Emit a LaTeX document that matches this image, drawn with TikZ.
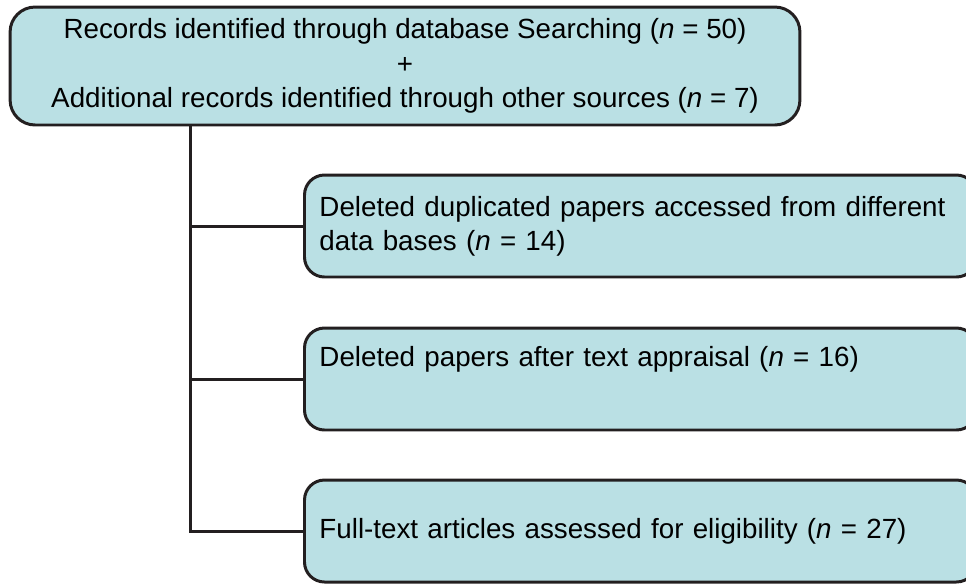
\documentclass[tikz,border=0pt]{standalone}
\usepackage{fontspec}
\setmainfont{Liberation Sans}
\definecolor{boxfill}{RGB}{186,224,228}
\definecolor{boxline}{RGB}{35,31,32}
\tikzset{
  flowbox/.style={draw=boxline,fill=boxfill,line width=1.7pt,rounded corners=0.4cm,
    minimum height=2.04cm,text width=12.84cm,inner sep=0.3cm,align=left,anchor=west},
  link/.style={draw=boxline,line width=1.7pt}
}
\begin{document}
\begin{tikzpicture}[x=0.02cm,y=-0.02cm,font=\fontsize{15.8}{19.5}\selectfont]
        \clip (0,0) rectangle (966,583);
        \node[draw=boxline,fill=boxfill,line width=1.7pt,rounded corners=0.5cm,
            minimum width=15.8cm,minimum height=2.36cm,align=center] (records) at (405,66)
            {Records identified through database Searching (\textit{n} = 50)\\+\\
             Additional records identified through other sources (\textit{n} = 7)};
        \node[flowbox] (duplicates) at (303,226)
            {Deleted duplicated papers accessed from different\\data bases (\textit{n} = 14)};
        \node[flowbox] (appraisal) at (303,379)
            {Deleted papers after text appraisal (\textit{n} = 16)\\\strut};
        \node[flowbox] (fulltext) at (303,531)
            {Full-text articles assessed for eligibility (\textit{n} = 27)};
        \coordinate (trunk) at ([xshift=3.64cm]records.south west);
        \draw[link] (trunk) |- (fulltext.west);
        \draw[link] (trunk |- duplicates.west) -- (duplicates.west);
        \draw[link] (trunk |- appraisal.west) -- (appraisal.west);
    \end{tikzpicture}
\end{document}
